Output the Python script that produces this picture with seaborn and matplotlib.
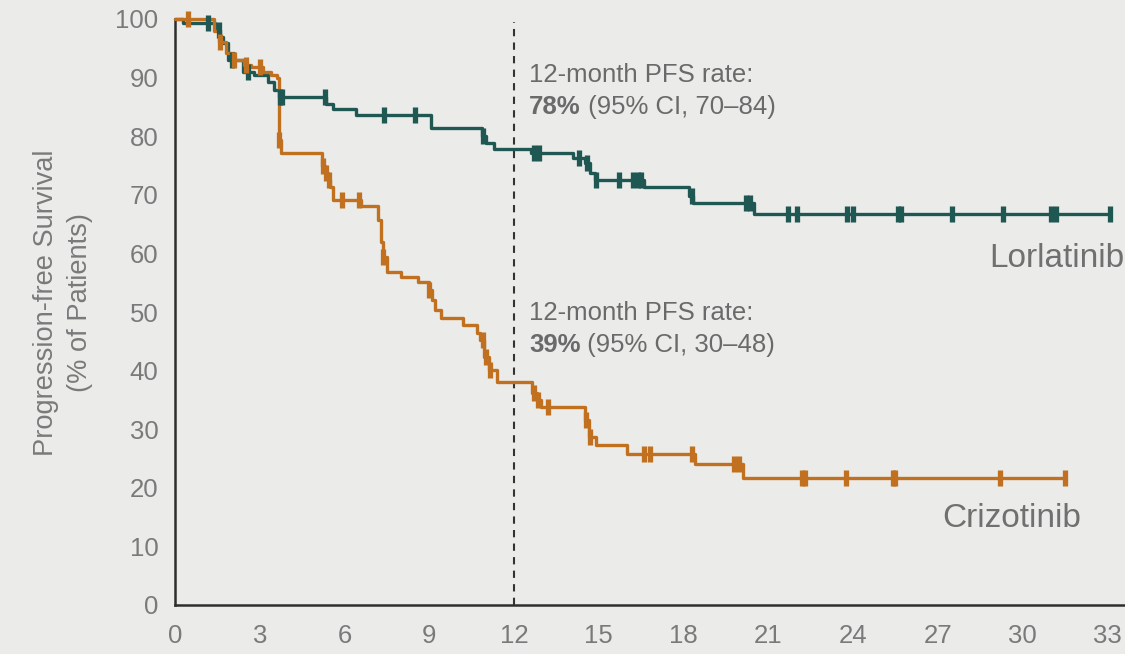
import numpy as np
import pandas as pd
import matplotlib
matplotlib.use("Agg")
import matplotlib.pyplot as plt
import seaborn as sns
from matplotlib import font_manager

# ---------------- data ----------------
months_ticks = [0, 3, 6, 9, 12, 15, 18, 21, 24, 27, 30, 33]
pct_ticks = [0, 10, 20, 30, 40, 50, 60, 70, 80, 90, 100]

lor_t = [0, 0.3, 1.4, 1.6, 1.7, 1.87, 2.4, 2.8, 3.3, 3.5, 3.68, 5.35, 5.6, 6.4,
         9.06, 10.85, 11.0, 11.3, 12.6, 14.1, 14.5, 14.7, 14.85, 16.6, 18.2, 18.35,
         20.5, 33.1]
lor_s = [100, 99.3, 98.1, 97.0, 95.9, 93.0, 91.0, 90.4, 89.2, 87.9, 86.7, 85.5, 84.6, 83.6,
         81.4, 80.0, 78.8, 77.8, 77.1, 76.3, 75.4, 73.8, 72.5, 71.3, 69.8, 68.6,
         66.7, 66.7]
lor_cens = [1.17, 1.55, 2.0, 2.6, 3.7, 3.8, 5.3, 7.4, 8.5, 10.9, 12.7, 12.9, 14.3,
            14.6, 14.9, 15.7, 16.2, 16.4, 16.5, 18.3, 20.2, 20.35, 21.7, 22.0, 23.8,
            24.0, 25.6, 25.7, 27.5, 29.3, 31.0, 31.2, 33.1]

cri_t = [0, 1.38, 1.55, 1.8, 2.1, 2.45, 2.7, 3.1, 3.4, 3.6, 3.68, 3.75, 5.2, 5.3, 5.4,
         5.5, 5.6, 6.6, 7.18, 7.3, 7.36, 7.5, 8.0, 8.6, 9.0, 9.1, 9.2, 9.4, 10.2,
         10.7, 10.8, 10.95, 11.1, 11.4, 12.65, 12.8, 12.95, 14.5, 14.65, 14.9, 16.0,
         18.4, 20.1, 31.5]
cri_s = [100, 98.0, 96.0, 94.2, 93.0, 92.2, 91.8, 91.0, 90.4, 89.9, 79.4, 77.1, 75.0,
         73.7, 72.5, 71.3, 69.1, 68.1, 65.7, 62.0, 59.4, 56.8, 56.0, 55.1, 53.8, 52.0,
         50.3, 49.0, 47.8, 46.4, 45.2, 42.3, 40.1, 38.1, 36.2, 35.0, 33.8, 31.6, 28.7,
         27.3, 25.8, 24.1, 21.7, 21.7]
cri_cens = [0.45, 1.6, 2.1, 2.5, 3.0, 3.68, 5.25, 5.35, 5.45, 5.9, 6.5, 7.37, 9.0,
            10.9, 11.0, 11.15, 12.7, 12.85, 13.2, 14.55, 14.7, 16.6, 16.8, 18.3,
            19.8, 19.95, 22.2, 22.3, 23.75, 25.4, 25.5, 29.2, 31.5]

labels = ["Lorlatinib", "Crizotinib"]
pfs12_rate = ["78%", "39%"]
pfs12_ci = [" (95% CI, 70\u201384)", " (95% CI, 30\u201348)"]

# ---------------- style ----------------
BG = "#ebebea"
TEAL = "#1f5752"
ORANGE = "#c0701e"
AXC = "#2e2e2e"
TXT = "#7a7a7a"
ANN = "#6a6a6a"

sns.set_theme(style="white")
plt.rcParams["font.family"] = ["Liberation Sans", "DejaVu Sans"]
avail = {f.name for f in font_manager.fontManager.ttflist}
narrow = "Liberation Sans Narrow" if "Liberation Sans Narrow" in avail else "Liberation Sans"

fig = plt.figure(figsize=(11.25, 6.54), dpi=100, facecolor=BG)
ax = fig.add_axes([175 / 1125, 1 - 605 / 654, 950 / 1125, 586 / 654])
ax.set_facecolor(BG)


def surv_at(times, surv, x):
    idx = np.searchsorted(np.asarray(times), np.asarray(x), side="right") - 1
    return np.asarray(surv)[idx]


curves = [
    (lor_t, lor_s, lor_cens, TEAL),
    (cri_t, cri_s, cri_cens, ORANGE),
]
for (t, s, c, col), name in zip(curves, labels):
    df = pd.DataFrame({"month": t, "pfs": s})
    sns.lineplot(data=df, x="month", y="pfs", ax=ax, color=col, lw=2.4,
                 drawstyle="steps-post", estimator=None, sort=False,
                 clip_on=False, zorder=3)
    dc = pd.DataFrame({"month": c, "pfs": surv_at(t, s, c)})
    sns.scatterplot(data=dc, x="month", y="pfs", ax=ax, color=col, marker="|",
                    s=120, linewidth=3.8, clip_on=False, zorder=4)

ax.axvline(12, ymin=0, ymax=0.995, color="#333333", lw=1.5, ls=(0, (3.5, 3)),
           zorder=2)

ax.set_xlim(0, 950 / 28.25)
ax.set_ylim(0, 100)
ax.set_xticks(months_ticks)
ax.set_yticks(pct_ticks)
ax.set_xlabel("")
ax.set_ylabel("")
for sp in ["top", "right"]:
    ax.spines[sp].set_visible(False)
for sp in ["left", "bottom"]:
    ax.spines[sp].set_color(AXC)
    ax.spines[sp].set_linewidth(1.8)
ax.spines["left"].set_bounds(0, 100)
ax.tick_params(axis="both", colors=AXC, labelcolor=TXT, labelsize=18.5,
               width=1.8, direction="out")
ax.tick_params(axis="x", length=8, pad=6)
ax.tick_params(axis="y", length=8, pad=4)
ax.grid(False)

# annotations
for rate, ci, y1, y2 in [(pfs12_rate[0], pfs12_ci[0], 90.4, 85.0),
                         (pfs12_rate[1], pfs12_ci[1], 49.8, 44.4)]:
    ax.text(12.53, y1, "12-month PFS rate:", fontsize=18.5, color=ANN,
            ha="left", va="center")
    tb = ax.text(12.53, y2, rate, fontsize=18.5, color=ANN, fontweight="bold",
                 ha="left", va="center")
    ax.annotate(ci, xy=(1, 0), xycoords=tb, fontsize=18.5, color=ANN,
                ha="left", va="bottom")

ax.text(33.6, 59.2, labels[0], fontsize=24, color="#707070", ha="right",
        va="center", clip_on=False)
ax.text(32.07, 14.8, labels[1], fontsize=24, color="#707070", ha="right",
        va="center")

fig.text(46 / 1125, 1 - 303 / 654, "Progression-free Survival", rotation=90,
         fontsize=19.6, family=narrow, color=TXT, ha="center", va="center")
fig.text(80 / 1125, 1 - 303 / 654, "(% of Patients)", rotation=90,
         fontsize=19.6, family=narrow, color=TXT, ha="center", va="center")

fig.savefig("out.png", dpi=100, facecolor=BG)
